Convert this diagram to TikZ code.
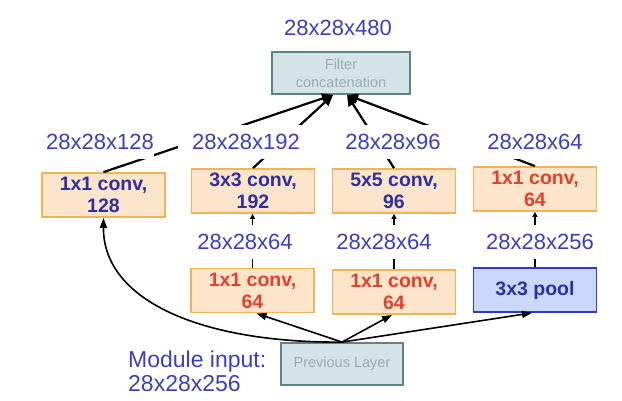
\documentclass[tikz,border=0pt]{standalone}
\usepackage{fontspec}
\setmainfont{Liberation Sans}
\usetikzlibrary{arrows.meta,calc}
\definecolor{lblue}{HTML}{3D3DC4}
\definecolor{dblue}{HTML}{2E2EA6}
\definecolor{cred}{HTML}{E4402B}
\definecolor{orbord}{HTML}{F0B457}
\definecolor{orfill}{HTML}{FDE5CB}
\definecolor{poolfill}{HTML}{C9D8FB}
\definecolor{poolbord}{HTML}{2B3BCB}
\definecolor{gfill}{HTML}{D3E3E7}
\definecolor{gbord}{HTML}{5E8286}
\definecolor{gtext}{HTML}{9AAEB2}
\begin{document}
\begin{tikzpicture}[x=1pt,y=1pt,
  lbl/.style={fill=white, text=lblue, font=\fontsize{22}{26}\selectfont, inner xsep=20pt, inner ysep=0pt, minimum height=34pt},
  convbox/.style={draw=orbord, fill=orfill, line width=1.8pt, minimum width=123pt, minimum height=44pt, inner sep=0pt, align=center, font=\fontsize{19.5}{22}\selectfont\bfseries},
  greybox/.style={draw=gbord, fill=gfill, line width=1.8pt, inner sep=0pt, align=center, text=gtext, font=\fontsize{14.5}{18}\selectfont},
  toparrow/.style={line width=2.2pt, -{Triangle[length=11pt,width=10pt]}},
  botarrow/.style={line width=1.6pt, -{Triangle[length=10pt,width=7pt]}},
  uparrow/.style={line width=1.4pt, -{Triangle[length=5pt,width=5pt]}},
]
\useasboundingbox (0,0) rectangle (622,400);

% boxes
\node[greybox, minimum width=138pt, minimum height=42pt] (concat) at (341,327) {Filter\\concatenation};
\node[convbox, text=dblue] (box1) at (103.5,205) {1x1 conv,\\128};
\node[convbox, text=dblue] (box2) at (253,209) {3x3 conv,\\192};
\node[convbox, text=dblue] (box3) at (394,209) {5x5 conv,\\96};
\node[convbox, text=cred] (box4) at (535,211) {1x1 conv,\\64};
\node[convbox, text=cred] (box5) at (252.5,109.5) {1x1 conv,\\64};
\node[convbox, text=cred] (box6) at (394,108) {1x1 conv,\\64};
\node[convbox, draw=poolbord, fill=poolfill, text=dblue] (pool) at (535,110) {3x3 pool};
\node[greybox, minimum width=122pt, minimum height=42pt] (prev) at (342,36) {Previous Layer};

% connectors to concatenation
\draw[toparrow] (box1.north) -- ([xshift=-8pt]concat.south);
\draw[toparrow] (box2.north) -- ([xshift=-8pt]concat.south);
\draw[toparrow] (box3.north) -- ([xshift=6pt]concat.south);
\draw[toparrow] (box4.north) -- ([xshift=6pt]concat.south);

% vertical connectors
\draw[uparrow] (box5.north) -- (box5.north |- box2.south);
\draw[uparrow] (box6.north) -- (box6.north |- box3.south);
\draw[uparrow] (pool.north) -- (pool.north |- box4.south);

% connectors from previous layer
\draw[botarrow] (prev.north) .. controls (200,57) and (103,100) .. (box1.south);
\draw[botarrow] (prev.north) -- ([xshift=4pt]box5.south);
\draw[botarrow] (prev.north) -- ([xshift=-2pt]box6.south);
\draw[botarrow] (prev.north) -- ([xshift=-3pt]pool.south);

% labels
\node[lbl] (t480) at (338,372) {28x28x480};
\node[lbl, inner xsep=0pt] (l128) at (100,258) {28x28x128};
\node[lbl, inner xsep=14pt] (l192) at (246,258) {28x28x192};
\node[lbl, inner xsep=22pt] (l96) at (393,258) {28x28x96};
\node[lbl, inner xsep=30pt] (l64a) at (535,258) {28x28x64};
\node[lbl] (l64b) at (245,158) {28x28x64};
\node[lbl] (l64c) at (384,158) {28x28x64};
\node[lbl] (l256) at (540,158) {28x28x256};
\node[anchor=west, align=left, text=lblue, font=\fontsize{23}{24}\selectfont, inner sep=0pt] (modin) at (128,29) {Module input:\\28x28x256};
\end{tikzpicture}
\end{document}
